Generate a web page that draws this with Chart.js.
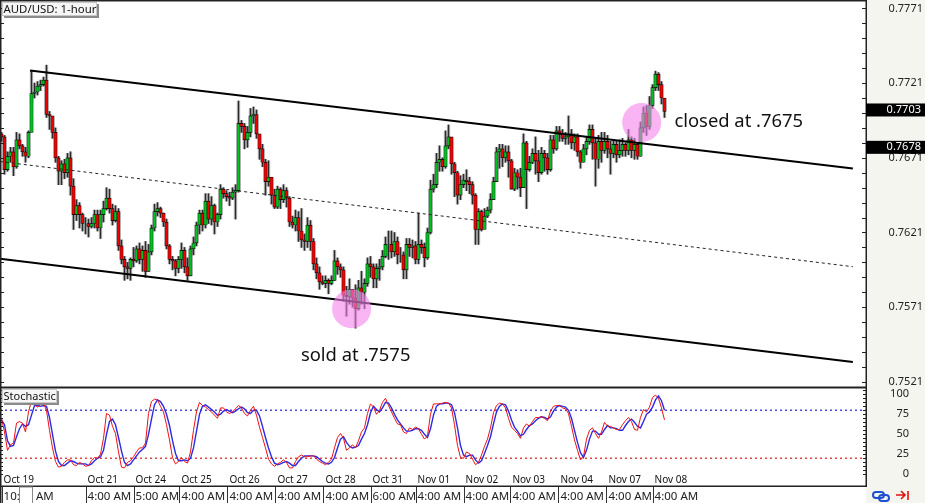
<!DOCTYPE html>
<html>
<head>
<meta charset="utf-8">
<script src="https://cdn.jsdelivr.net/npm/chart.js@4"></script>
<style>
html,body{margin:0;padding:0;background:#fff;width:925px;height:503px;overflow:hidden}
#a,#b{position:absolute;left:0;display:block}
#a{top:0}
#b{top:387px}
</style>
</head>
<body>
<canvas id="a" width="925" height="387"></canvas>
<canvas id="b" width="925" height="116"></canvas>
<script>
// Prices in pips (0.0001)
const firstOpen = 7687;
const closes = [
7685,7663,7672,7675,7665,7683,7679,7675,7672,7688,
7714,7715,7719,7720,7723,7700,7699,7688,7671,7662,
7667,7661,7671,7652,7633,7639,7633,7627,7627,7625,
7627,7633,7624,7633,7637,7644,7637,7629,7635,7612,
7603,7598,7597,7603,7602,7610,7603,7609,7595,7608,
7624,7635,7637,7634,7628,7612,7603,7602,7597,7603,
7609,7598,7592,7610,7614,7626,7634,7626,7642,7630,
7639,7628,7633,7650,7647,7645,7644,7648,7649,7694,
7692,7683,7688,7699,7700,7687,7677,7668,7655,7658,
7646,7638,7650,7643,7649,7644,7628,7626,7631,7622,
7616,7615,7626,7615,7600,7594,7588,7587,7589,7587,
7589,7602,7598,7596,7579,7578,7583,7577,7570,7584,
7581,7587,7600,7598,7590,7597,7598,7605,7613,7613,
7608,7615,7606,7606,7596,7613,7611,7612,7603,7613,
7611,7604,7621,7650,7653,7668,7670,7665,7679,7685,
7667,7661,7646,7653,7656,7655,7653,7646,7623,7635,
7623,7632,7636,7643,7655,7675,7677,7671,7675,7669,
7650,7661,7658,7651,7681,7663,7668,7674,7669,7661,
7674,7671,7663,7683,7677,7689,7687,7684,7685,7687,
7681,7685,7675,7668,7677,7682,7690,7681,7670,7682,
7676,7682,7677,7674,7680,7673,7676,7680,7676,7683,
7676,7680,7672,7691,7701,7692,7706,7718,7727,7720,
7711,7702];
const highs = [
7688,7686,7675,7678,7678,7688,7687,7680,7678,7689,
7729,7721,7722,7723,7725,7733,7702,7691,7691,7672,
7669,7670,7674,7675,7657,7643,7641,7634,7631,7630,
7631,7636,7636,7636,7642,7651,7650,7640,7639,7637,
7616,7605,7601,7604,7611,7612,7614,7612,7615,7613,
7626,7640,7641,7638,7634,7630,7613,7605,7603,7605,
7614,7611,7604,7612,7618,7628,7636,7636,7647,7647,
7645,7640,7634,7653,7651,7649,7648,7651,7653,7709,
7696,7694,7692,7704,7705,7703,7686,7680,7670,7669,
7658,7650,7652,7651,7653,7651,7645,7632,7636,7635,
7637,7620,7631,7629,7617,7604,7598,7592,7592,7590,
7592,7609,7604,7600,7598,7585,7590,7583,7586,7589,
7595,7590,7604,7605,7600,7600,7603,7609,7618,7622,
7622,7621,7618,7611,7608,7617,7617,7616,7615,7634,
7616,7614,7624,7656,7660,7674,7679,7671,7689,7693,
7682,7668,7662,7659,7660,7663,7658,7655,7647,7637,
7636,7637,7638,7647,7658,7678,7680,7680,7679,7679,
7670,7664,7663,7664,7687,7682,7672,7677,7685,7676,
7678,7676,7674,7686,7686,7692,7692,7690,7688,7699,
7690,7687,7687,7676,7680,7685,7693,7693,7684,7686,
7688,7688,7686,7682,7683,7682,7683,7684,7681,7690,
7685,7684,7681,7695,7705,7706,7712,7720,7729,7728,
7722,7708];
const lows = [
7682,7660,7662,7668,7659,7664,7677,7672,7668,7671,
7708,7711,7713,7716,7719,7698,7690,7684,7668,7653,
7653,7657,7658,7646,7623,7629,7624,7622,7620,7618,
7624,7624,7622,7617,7628,7636,7634,7626,7628,7609,
7600,7589,7590,7589,7598,7601,7600,7595,7591,7595,
7606,7622,7632,7631,7625,7610,7600,7596,7592,7594,
7597,7594,7589,7592,7606,7612,7620,7622,7624,7627,
7626,7620,7625,7630,7644,7642,7639,7643,7630,7648,
7688,7677,7678,7685,7694,7684,7670,7665,7646,7652,
7640,7637,7637,7637,7641,7638,7625,7624,7622,7615,
7611,7609,7611,7609,7596,7590,7583,7586,7584,7580,
7586,7589,7593,7591,7575,7565,7573,7571,7557,7569,
7573,7570,7585,7591,7584,7584,7589,7596,7604,7603,
7604,7605,7600,7601,7590,7590,7605,7604,7600,7600,
7607,7598,7603,7620,7648,7651,7662,7662,7664,7677,
7660,7645,7640,7643,7651,7649,7647,7640,7613,7613,
7622,7626,7631,7634,7643,7655,7664,7665,7668,7658,
7650,7649,7650,7645,7651,7637,7662,7667,7660,7655,
7660,7662,7660,7662,7674,7676,7682,7682,7680,7680,
7677,7676,7672,7664,7668,7673,7680,7670,7652,7664,
7668,7674,7671,7660,7671,7668,7671,7672,7672,7673,
7671,7670,7670,7672,7688,7686,7690,7704,7716,7716,
7707,7698];
const stochK = [
70,53,30,37,39,64,66,64,53,78,
92,87,84,87,89,80,55,33,16,9,
10,15,18,18,12,11,15,13,10,11,
17,21,20,25,45,76,74,60,51,28,
9,8,15,17,22,28,33,33,39,76,
91,94,93,85,78,62,43,21,13,16,
21,16,14,28,55,78,90,86,84,81,
78,74,70,83,83,78,76,78,82,86,
83,76,73,80,85,74,59,46,33,19,
13,10,13,15,18,15,8,8,16,22,
24,22,22,23,23,19,16,14,12,15,
19,33,46,51,45,30,33,37,33,42,
53,58,76,88,84,75,80,90,95,86,
78,70,63,62,53,51,58,56,59,57,
50,44,48,75,88,88,88,89,90,89,
83,62,36,21,20,28,26,19,12,15,
24,35,44,58,77,86,89,88,83,70,
59,55,51,45,58,63,60,66,71,71,
72,70,67,79,85,86,86,83,82,76,
60,43,30,18,22,44,55,58,51,45,
53,65,60,60,58,56,56,62,67,71,
66,56,55,71,81,78,84,96,99,95,
83,68];
const stochD = [
68,62,42,35,36,47,57,63,60,62,
74,86,86,85,86,85,71,50,29,16,
11,11,14,17,16,14,13,13,13,11,
13,17,20,22,30,50,66,69,62,46,
29,15,11,13,18,23,28,31,35,50,
69,87,93,91,85,75,61,42,26,17,
17,18,17,20,33,54,75,85,87,84,
81,78,74,75,79,81,79,77,79,82,
84,82,77,76,80,80,73,60,46,33,
22,14,12,13,15,16,14,11,11,16,
20,23,23,23,23,22,19,16,14,13,
15,21,33,44,47,40,35,33,34,36,
44,51,62,77,85,81,78,83,90,89,
83,75,68,63,58,54,54,55,57,57,
55,50,46,57,74,85,88,88,89,89,
87,77,58,36,24,22,24,24,18,14,
17,26,36,47,63,78,85,88,87,79,
68,59,54,48,50,56,61,63,67,70,
72,71,69,72,79,84,86,85,84,80,
70,55,40,27,21,30,44,54,54,50,
50,56,61,58,58,57,55,55,61,66,
69,65,60,58,66,75,78,84,93,98,
92,80];
const priceTicks = [0.7771,0.7721,0.7671,0.7621,0.7571,0.7521];
const priceTags = [0.7703,0.7678];
const stochTicks = [100,75,50,25,0];
const stochLevels = [80,20];
const dayPositions = [0.2,28.2,44.2,59.5,75.5,91.5,107.5,123.2,138.2,154.2,169.8,185.8,201.8,217.2];
const dayLabels = ['Oct 19','Oct 21','Oct 24','Oct 25','Oct 26','Oct 27','Oct 28','Oct 31','Nov 01','Nov 02','Nov 03','Nov 04','Nov 07','Nov 08'];
const timeLabels = ['10:00 AM','4:00 AM','5:00 AM','4:00 AM','4:00 AM','4:00 AM','4:00 AM','6:00 AM','4:00 AM','4:00 AM','4:00 AM','4:00 AM','4:00 AM','4:00 AM'];
const channelUpper = [[9.5,0.77294],[283.8,0.76638]];
const channelMid = [[-0.5,0.76685],[283.8,0.75981]];
const channelLower = [[-0.5,0.76034],[283.8,0.75344]];
const highlights = [[116.7,0.7570],[213.4,0.76946]];
const notes = [['sold at .7575',99.8,0.75353],['closed at .7675',224.3,0.76914]];

const FONT = '"Noto Sans"';
const XMIN = -0.5, XMAX = 288.17;
const toPrice = p => p/10000;
const opens = closes.map((c,i)=> i===0 ? firstOpen : closes[i-1]);
const pts = a => a.map(([x,y])=>({x,y}));

function labelBox(ctx,text,x,y,w,h,size){
  ctx.fillStyle='#8a8a8a'; ctx.fillRect(x+2,y+2,w,h);
  ctx.fillStyle='#f6f6f6'; ctx.fillRect(x,y,w,h);
  ctx.strokeStyle='#c8c8c8'; ctx.lineWidth=1; ctx.strokeRect(x+.5,y+.5,w-1,h-1);
  ctx.fillStyle='#111'; ctx.font=size+'px '+FONT; ctx.textAlign='left'; ctx.textBaseline='alphabetic';
  ctx.fillText(text,x+1.5,y+h-3);
}
function frame(ctx,a,topY){
  ctx.fillStyle='#222';
  ctx.fillRect(0,topY,a.right+1,1.5);
  ctx.fillRect(0,a.bottom-.5,a.right+1,1.5);
  ctx.fillRect(a.right-.5,topY,1.5,a.bottom-topY+1);
}
const panelPlugin = {id:'panel',beforeDraw(c){
  const a=c.chartArea,ctx=c.ctx;
  ctx.save();ctx.fillStyle='#f5f5f0';ctx.fillRect(a.right,0,c.width-a.right,c.height);ctx.restore();
}};
const mainPlugin = {id:'mainDeco',afterDraw(c){
  const ctx=c.ctx,a=c.chartArea,y=c.scales.y,x=c.scales.x;
  ctx.save();
  frame(ctx,a,0);
  ctx.fillStyle='#222'; ctx.fillRect(0,0,1.5,a.bottom);
  for(let k=-1;k<26;k++){
    const py=Math.round(y.getPixelForValue(priceTicks[0]-k*0.001));
    if(py<1||py>a.bottom-1) continue;
    ctx.fillRect(a.right-4,py,4,1); ctx.fillRect(0,py,4,1);
  }
  ctx.font='18.4px '+FONT; ctx.textAlign='left'; ctx.textBaseline='alphabetic'; ctx.fillStyle='#111';
  notes.forEach(([t,i,p])=>ctx.fillText(t,x.getPixelForValue(i),y.getPixelForValue(p)));
  priceTags.forEach(v=>{
    const py=y.getPixelForValue(v);
    ctx.fillStyle='#000'; ctx.fillRect(a.right,py-6.5,c.width-a.right+3,13);
    ctx.fillStyle='#fff'; ctx.font='11px '+FONT; ctx.textAlign='right'; ctx.textBaseline='middle';
    ctx.fillText(v.toFixed(4),921,py);
  });
  labelBox(ctx,'AUD/USD: 1-hour',2,2,95,14,11.4);
  ctx.restore();
}};
const stochPlugin = {id:'stochDeco',afterDraw(c){
  const ctx=c.ctx,a=c.chartArea,y=c.scales.y,x=c.scales.x;
  ctx.save();
  frame(ctx,a,0);
  ctx.fillStyle='#222'; ctx.fillRect(0,0,1.5,c.height);
  for(let v=0;v<=105;v+=5){
    const py=Math.round(y.getPixelForValue(v));
    ctx.fillRect(a.right-3,py,3,1); ctx.fillRect(0,py,3,1);
  }
  ctx.fillStyle='#111'; ctx.font='10px '+FONT; ctx.textAlign='left'; ctx.textBaseline='middle';
  dayLabels.forEach((t,i)=>ctx.fillText(t,x.getPixelForValue(dayPositions[i])+1.5,93));
  labelBox(ctx,'Stochastic',2,2,55,14,11);
  // page-scroll box on the time bar
  ctx.fillStyle='#fff'; ctx.fillRect(19.5,a.bottom+1,13,c.height-a.bottom);
  ctx.strokeStyle='#888'; ctx.lineWidth=1; ctx.strokeRect(19.5,a.bottom+1,13,c.height-a.bottom);
  // chain icon
  ctx.strokeStyle='#1f4fd0'; ctx.lineWidth=2;
  ctx.beginPath(); ctx.roundRect(873,c.height-11,11,6,3); ctx.stroke();
  ctx.beginPath(); ctx.roundRect(879,c.height-8,10,6,3); ctx.stroke();
  // arrow icon
  ctx.strokeStyle='#e01010'; ctx.lineWidth=1.6;
  ctx.beginPath(); ctx.moveTo(896,c.height-8); ctx.lineTo(905,c.height-8);
  ctx.moveTo(901,c.height-12); ctx.lineTo(905,c.height-8); ctx.lineTo(901,c.height-4);
  ctx.moveTo(908,c.height-12); ctx.lineTo(908,c.height-3); ctx.stroke();
  ctx.restore();
}};

new Chart(document.getElementById('a'),{
  type:'bar',
  plugins:[panelPlugin,mainPlugin],
  data:{datasets:[
    {type:'line',order:0,data:pts(highlights),showLine:false,pointRadius:19.5,pointBackgroundColor:'rgba(245,130,237,.6)',pointBorderWidth:0,clip:false},
    {type:'line',order:1,data:pts(channelUpper),borderColor:'#000',borderWidth:2,pointRadius:0},
    {type:'line',order:1,data:pts(channelLower),borderColor:'#000',borderWidth:2,pointRadius:0},
    {type:'line',order:1,data:pts(channelMid),borderColor:'#222',borderWidth:1,borderDash:[3,3],pointRadius:0},
    {type:'bar',order:2,grouped:false,barThickness:3.4,borderWidth:0.7,borderSkipped:false,borderColor:'#000',
     data:closes.map((c,i)=>({x:i,y:[toPrice(opens[i]),toPrice(c)]})),
     backgroundColor:closes.map((c,i)=>c>=opens[i]?'#00c020':'#f00000')},
    {type:'bar',order:3,grouped:false,barThickness:1,borderWidth:0,backgroundColor:'rgba(0,0,0,.8)',
     data:closes.map((c,i)=>({x:i,y:[toPrice(lows[i]),toPrice(highs[i])]}))},
    {type:'bar',order:4,grouped:false,barThickness:3,borderWidth:0,backgroundColor:'rgba(0,0,0,.16)',
     data:closes.map((c,i)=>({x:i,y:[toPrice(lows[i]),toPrice(highs[i])]}))}
  ]},
  options:{
    responsive:false,animation:false,
    layout:{padding:{right:2},autoPadding:false},
    plugins:{legend:{display:false},tooltip:{enabled:false}},
    scales:{
      x:{type:'linear',display:false,offset:false,min:XMIN,max:XMAX},
      y:{type:'linear',position:'right',min:0.75176,max:0.77766,
        grid:{display:false},border:{display:false},
        afterBuildTicks(s){s.ticks=priceTicks.map(value=>({value}));},
        afterFit(s){s.width=57;s.paddingTop=0;s.paddingBottom=0;},
        ticks:{autoSkip:false,font:{family:'Noto Sans',size:11},color:'#222',crossAlign:'far',padding:4,
          callback:v=>v.toFixed(4)}
      }
    }
  }
});

new Chart(document.getElementById('b'),{
  type:'line',
  plugins:[panelPlugin,stochPlugin],
  data:{datasets:[
    {order:3,data:[{x:XMIN,y:stochLevels[0]},{x:XMAX,y:stochLevels[0]}],borderColor:'#4a4ae0',borderWidth:1.5,borderDash:[2,3],pointRadius:0},
    {order:3,data:[{x:XMIN,y:stochLevels[1]},{x:XMAX,y:stochLevels[1]}],borderColor:'#e04848',borderWidth:1.5,borderDash:[2,3],pointRadius:0},
    {order:2,data:stochD.map((y,x)=>({x,y})),borderColor:'#2a2ae8',borderWidth:1.4,pointRadius:0,tension:0},
    {order:1,data:stochK.map((y,x)=>({x,y})),borderColor:'#ee1010',borderWidth:1,pointRadius:0,tension:0}
  ]},
  options:{
    responsive:false,animation:false,
    layout:{padding:{top:1,right:16},autoPadding:false},
    plugins:{legend:{display:false},tooltip:{enabled:false}},
    scales:{
      x:{type:'linear',min:XMIN,max:XMAX,
        grid:{drawOnChartArea:false,tickLength:17,tickColor:'#333',tickWidth:1},border:{display:false},
        afterBuildTicks(s){s.ticks=dayPositions.map(value=>({value}));},
        afterFit(s){s.height=17;s.paddingLeft=0;s.paddingRight=0;},
        ticks:{autoSkip:false,maxRotation:0,minRotation:0,align:'start',labelOffset:1.5,padding:-13,
          font:{family:'Noto Sans',size:11.5},color:'#222',
          callback:(v,i)=>timeLabels[i]}
      },
      y:{type:'linear',position:'right',min:-14.6,max:107.9,
        grid:{display:false},border:{display:false},
        afterBuildTicks(s){s.ticks=stochTicks.map(value=>({value}));},
        afterFit(s){s.width=43;s.paddingTop=0;s.paddingBottom=0;},
        ticks:{autoSkip:false,font:{family:'Noto Sans',size:11},color:'#222',crossAlign:'far',padding:4,
          callback:v=>String(v)}
      }
    }
  }
});
</script>
</body>
</html>
